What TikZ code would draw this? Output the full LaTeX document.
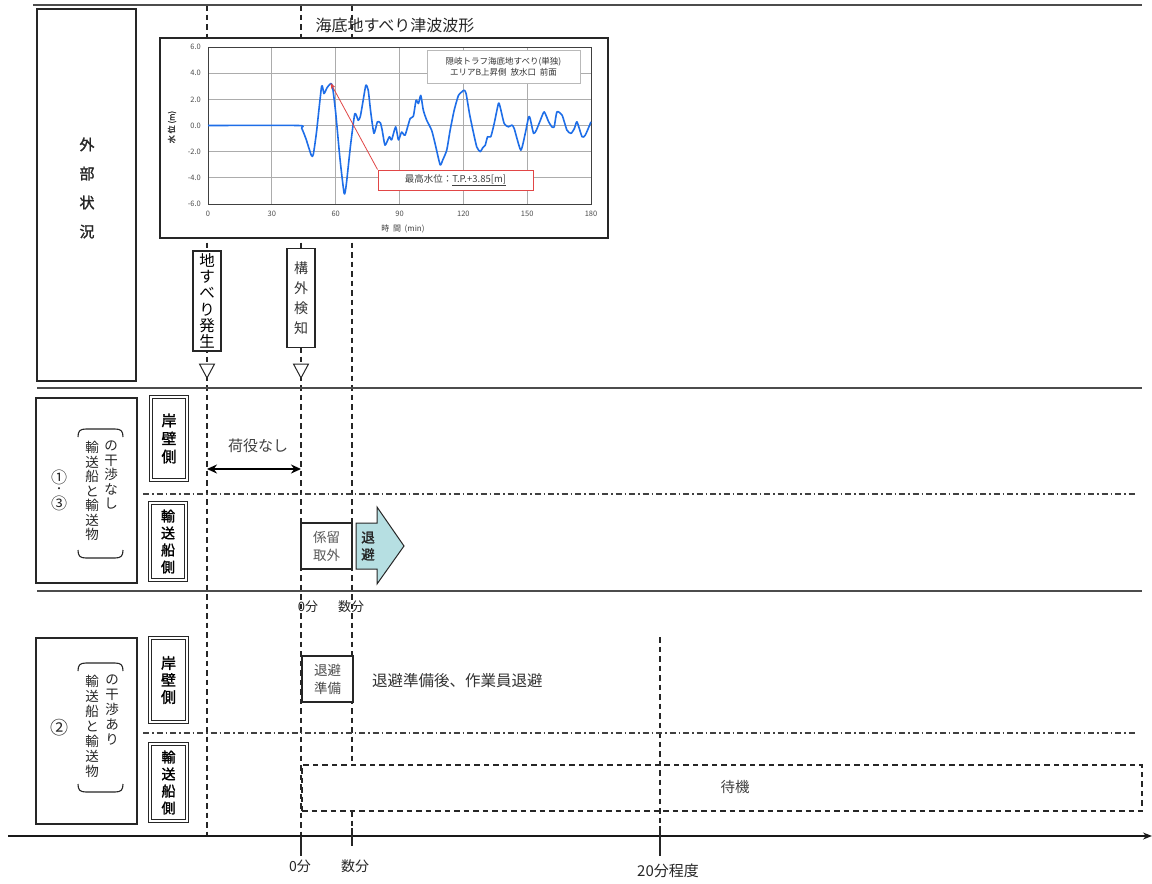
\documentclass[tikz,border=0pt]{standalone}
\usepackage{fontspec}
\setmainfont{Noto Sans CJK JP}
\newfontfamily\jpbold{Noto Sans CJK JP}[FakeBold=1.6]
\usetikzlibrary{arrows.meta}
\newcommand\jfs[2]{\fontsize{#1}{#2}\selectfont}
\definecolor{wave}{RGB}{30,110,232}
\definecolor{annred}{RGB}{225,70,70}
\definecolor{evac}{RGB}{182,223,226}
\begin{document}
\begin{tikzpicture}[x=1pt,y=-1pt,
  vdash/.style={line width=1.3pt, dash pattern=on 5.5pt off 4pt, black!85},
  hrule/.style={line width=1.8pt, black!70},
  ddot/.style={line width=1.1pt, black!75, dash pattern=on 6pt off 3pt on 1.5pt off 3pt},
  frame/.style={draw=black!85, line width=1.2pt, fill=white, inner sep=0pt, align=center},
  dbl/.style={draw=black!85, double=white, double distance=2pt, line width=0.8pt, fill=white, inner sep=0pt, align=center},
  jt/.style={inner sep=0pt, text=black!85, align=center},
  tickmark/.style={line width=1.5pt, black!85},
]
\useasboundingbox (0,0) rectangle (1152,884);

% ---------- vertical time lines ----------
\coordinate (L1t) at (207,5);   \coordinate (L1b) at (207,836);
\coordinate (L2t) at (301,5);   \coordinate (L2b) at (301,836);
\coordinate (L3t) at (352,5);   \coordinate (L3m) at (352,762);
\coordinate (L3c) at (352,811); \coordinate (L3d) at (352,830);
\coordinate (L4t) at (660,637); \coordinate (L4b) at (660,828);
\draw[vdash] (L1t) -- (L1b);
\draw[vdash] (L2t) -- (L2b);
\draw[vdash] (L3t) -- (L3m);
\draw[vdash] (L3c) -- (L3d);
\draw[vdash] (L4t) -- (L4b);

% ---------- horizontal rules ----------
\coordinate (h0a) at (33,5);   \coordinate (h0b) at (1142,5);
\coordinate (h1a) at (37,388); \coordinate (h1b) at (1142,388);
\coordinate (h2a) at (37,591); \coordinate (h2b) at (1142,591);
\draw[hrule] (h0a) -- (h0b);
\draw[hrule] (h1a) -- (h1b);
\draw[hrule] (h2a) -- (h2b);
\coordinate (d1a) at (143,494); \coordinate (d1b) at (1135,494);
\coordinate (d2a) at (143,733); \coordinate (d2b) at (1135,733);
\draw[ddot] (d1a) -- (d1b);
\draw[ddot] (d2a) -- (d2b);

% ---------- time axis ----------
\coordinate (ax0) at (8,836); \coordinate (ax1) at (1152,836);
\draw[line width=1.4pt, black!90, -{Stealth[length=9pt,width=7pt]}] (ax0) -- (ax1);
\coordinate (t0a) at (301,836); \coordinate (t0b) at (301,856);
\coordinate (t1a) at (352,828); \coordinate (t1b) at (352,846);
\coordinate (t2a) at (660,826); \coordinate (t2b) at (660,856);
\draw[tickmark] (t0a) -- (t0b);
\draw[tickmark] (t1a) -- (t1b);
\draw[tickmark] (t2a) -- (t2b);
\node[jt, font=\jfs{14}{16}] (lab0) at (300,866) {0分};
\node[jt, font=\jfs{14}{16}] (lab1) at (355,866) {数分};
\node[jt, font=\jfs{15}{17}] (lab2) at (668,871) {20分程度};

% ---------- left label boxes ----------
\node[frame, minimum width=99, minimum height=372] (ext) at (86.5,195) {};
\node[jt, font=\jfs{15}{29}\jpbold] (extt) at (87,188) {外\\部\\状\\況};

\node[frame, minimum width=101, minimum height=185] (r1) at (86.5,490.5) {};
\node[jt, font=\jfs{16}{17}] (r1a) at (59,477) {①};
\node[jt, font=\jfs{10}{11}] (r1d) at (59,490) {・};
\node[jt, font=\jfs{16}{17}] (r1b) at (59,503) {③};
\draw[line width=1.1pt, black!85] (78,437) .. controls (78,431) and (80,429) .. (86,429) -- (115,429) .. controls (121,429) and (123,431) .. (123,437);
\draw[line width=1.1pt, black!85] (78,550) .. controls (78,556) and (80,558) .. (86,558) -- (115,558) .. controls (121,558) and (123,556) .. (123,550);
\node[jt, font=\jfs{13.5}{14.5}, anchor=north] (r1c1) at (92,441) {輸\\送\\船\\と\\輸\\送\\物};
\node[jt, font=\jfs{13.5}{14.5}, anchor=north] (r1c2) at (111,441) {の\\干\\渉\\な\\し};

\node[frame, minimum width=101, minimum height=186] (r2) at (86.5,731) {};
\node[jt, font=\jfs{18}{20}] (r2n) at (59,728) {②};
\draw[line width=1.1pt, black!85] (78,671) .. controls (78,665) and (80,663) .. (86,663) -- (115,663) .. controls (121,663) and (123,665) .. (123,671);
\draw[line width=1.1pt, black!85] (78,784) .. controls (78,790) and (80,792) .. (86,792) -- (115,792) .. controls (121,792) and (123,790) .. (123,784);
\node[jt, font=\jfs{13.5}{15}, anchor=north] (r2c1) at (92,675) {輸\\送\\船\\と\\輸\\送\\物};
\node[jt, font=\jfs{13.5}{15}, anchor=north] (r2c2) at (112,675) {の\\干\\渉\\あ\\り};

\node[dbl, minimum width=36, minimum height=83, font=\jfs{15}{18}\jpbold] (q1) at (169,438.5) {岸\\壁\\側};
\node[dbl, minimum width=36, minimum height=77, font=\jfs{14}{17}\jpbold] (s1) at (168,541.5) {輸\\送\\船\\側};
\node[dbl, minimum width=37, minimum height=84, font=\jfs{15}{17}\jpbold] (q2) at (168.5,680) {岸\\壁\\側};
\node[dbl, minimum width=37, minimum height=77, font=\jfs{14}{17}\jpbold] (s2) at (168.5,782.5) {輸\\送\\船\\側};

% ---------- chart ----------
\node[jt, font=\jfs{16}{18}] (ttl) at (395,25) {海底地すべり津波波形};
\node[frame, line width=1.5pt, minimum width=448, minimum height=200] (chart) at (384,138) {};
\begin{scope}[shift={(208,125.5)}, x=2.12778pt, y=13.0833pt]
  \foreach \t in {30,60,...,150} \draw[gray!65, line width=0.8pt] (\t,-6) -- (\t,6);
  \foreach \v in {-4,-2,...,4} \draw[gray!65, line width=0.8pt] (0,\v) -- (180,\v);
  \draw[black!75, line width=1pt] (0,-6) rectangle (180,6);
  \foreach \v/\l in {6/6.0,4/4.0,2/2.0,0/0.0,-2/-2.0,-4/-4.0,-6/-6.0}
    \node[anchor=east, inner sep=0pt, font=\jfs{7.5}{8}, text=black!70] at (-3.3,\v) {\l};
  \foreach \t in {0,30,...,180}
    \node[inner sep=0pt, font=\jfs{7.5}{8}, text=black!70] at (\t,-6.75) {\t};
  \draw[wave, line width=1.6pt, line join=round] plot[smooth, tension=0.35] coordinates {
    (0,0) (42.4,0) (44,-0.2) (46,-1.0) (48.6,-2.3) (49.5,-2.2) (51,-0.5) (53.4,3.0) (54.5,2.44)
    (56,2.9) (57.6,3.2) (58.5,3.0) (60,1.0) (62,-2.5) (64,-5.2) (65,-4.5) (67,-1.5) (69,0.9)
    (70.6,0.4) (71.6,0.7) (73,2.0) (74.2,3.08) (75.3,2.7) (76.5,1.0) (78,-0.6) (79.6,0.28)
    (81,0.2) (81.8,-0.3) (83.2,-1.5) (85.2,-0.86) (86.3,-1.1) (88.2,-0.1) (89.5,-1.1) (91,-0.5)
    (92.6,-0.74) (95,0.53) (96.5,0.7) (97.8,1.93) (98.9,1.68) (100,2.3) (101.2,1.17) (102.8,0.4)
    (105.1,-0.36) (106.7,-1.37) (109.1,-3.0) (110.3,-2.64) (112.2,-1.88) (113.8,-0.36) (115.7,1.17)
    (117.7,2.3) (119.3,2.57) (120.4,2.7) (121.3,2.44) (122.9,0.9) (124.5,-0.36) (126.3,-1.63)
    (127.9,-2.0) (129.2,-1.68) (130.3,-1.5) (131.4,-0.86) (132.9,-0.86) (134.5,0.15) (136.5,1.68)
    (137.3,1.42) (139.2,0.15) (141.2,-0.1) (142.8,0.03) (143.9,-0.23) (147,-1.88) (149.1,-0.6)
    (150.7,0.66) (151.4,0.53) (153,-0.6) (154.3,-0.36) (156.2,0.4) (158,1.04) (160.1,0.28)
    (161.6,-0.1) (162.7,-0.1) (164,1.04) (166.4,0.79) (168.7,-0.36) (170.6,-0.6) (172.2,-0.23)
    (173.4,0.28) (175.8,-0.86) (177.3,-0.74) (180,0.28)};
  \coordinate (peak) at (57.6,3.25);
\end{scope}
\node[draw=gray!55, line width=0.8pt, fill=white, inner sep=0pt, minimum width=153, minimum height=33,
      align=center, font=\jfs{8.5}{11}, text=black!80] (leg) at (503.5,66.5)
      {隠岐トラフ海底地すべり(単独)\\エリアB上昇側\ \ 放水口\ \ 前面};
\node[inner sep=0pt, font=\jfs{8}{9}, text=black!75] (xlab) at (403,229) {時\ \ 間\ \ (min)};
\node[inner sep=0pt, font=\jfs{8}{9}\jpbold, text=black!80, rotate=90] (ylab) at (172,127) {水\ 位\ (m)};
\node[draw=annred, line width=1pt, fill=white, inner sep=0pt, minimum width=155, minimum height=20,
      font=\jfs{9.5}{11}, text=black!75] (ann) at (455.5,180) {最高水位：\underline{T.P.+3.85[m]}};
\draw[annred, line width=0.8pt, -{Stealth[length=6pt,width=4.5pt]}] (ann.north west) -- (peak);

% ---------- event markers ----------
\node[frame, minimum width=28, minimum height=100, font=\jfs{15.5}{16.3}] (ev1) at (207,301) {地\\す\\べ\\り\\発\\生};
\node[frame, minimum width=28, minimum height=99, font=\jfs{14}{20}, text=black!80] (ev2) at (301,298) {構\\外\\検\\知};
\draw[line width=1pt, black!85, fill=white] (199.5,364) -- (214.5,364) -- (207,378) -- cycle;
\draw[line width=1pt, black!85, fill=white] (293.5,364) -- (308.5,364) -- (301,378) -- cycle;

% ---------- row 1 ----------
\coordinate (a1) at (207,469); \coordinate (a2) at (301,469);
\draw[line width=2.6pt, {Stealth[length=10pt,width=9pt]}-{Stealth[length=10pt,width=9pt]}] (a1) -- (a2);
\node[jt, font=\jfs{15}{17}, text=black!75] (nl) at (258,446) {荷役なし};
\node[frame, minimum width=51, minimum height=46, font=\jfs{13.5}{18}, text=black!65] (kr) at (326.5,546) {係留\\取外};
\draw[line width=1pt, black!85, fill=evac] (356,523) -- (377,523) -- (377,507) -- (404,546) -- (377,584) -- (377,569) -- (356,569) -- cycle;
\node[jt, font=\jfs{13.5}{17}\jpbold] (tai) at (368,546) {退\\避};
\node[jt, font=\jfs{13}{15}] (r1l0) at (308,607) {0分};
\node[jt, font=\jfs{13}{15}] (r1l1) at (351,607) {数分};

% ---------- row 2 ----------
\node[frame, minimum width=51, minimum height=46, font=\jfs{13.5}{18}, text=black!70] (tj) at (327.5,679) {退避\\準備};
\node[jt, font=\jfs{15.5}{17}, anchor=west, text=black!80] (tjt) at (372,681) {退避準備後、作業員退避};
\node[draw=black!85, line width=1.2pt, dash pattern=on 5.5pt off 4pt, inner sep=0pt, minimum width=840, minimum height=46] (wait) at (722,788) {};
\node[jt, font=\jfs{14.5}{16}, text=black!75] (waitt) at (735,787) {待機};
\end{tikzpicture}
\end{document}
